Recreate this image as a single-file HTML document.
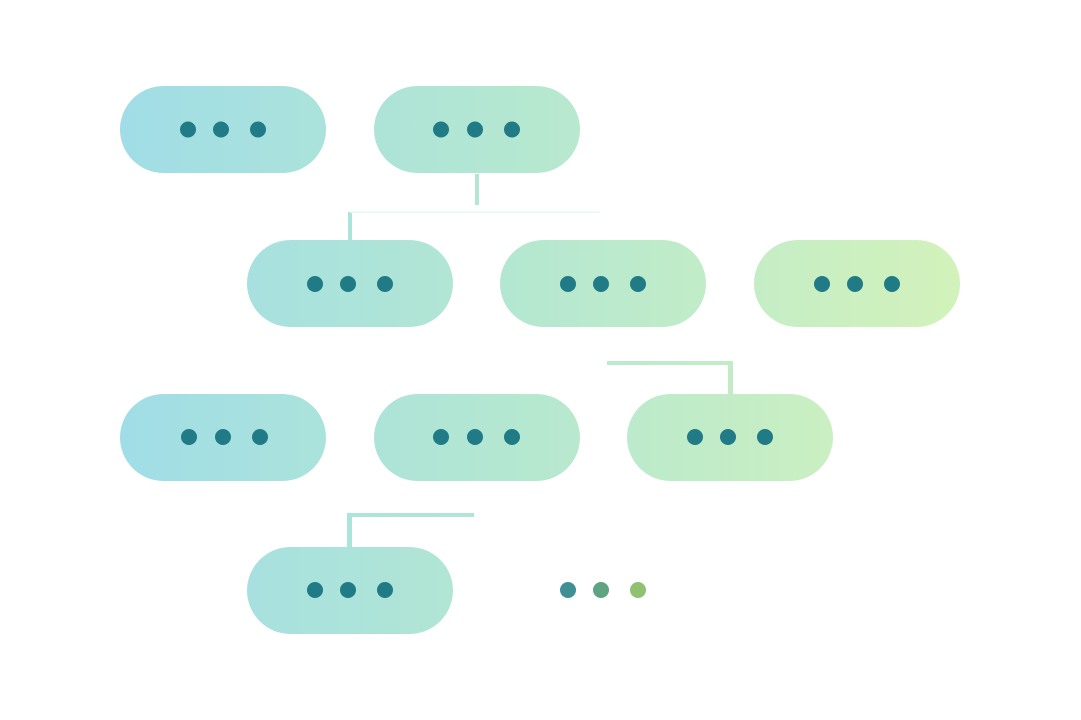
<!DOCTYPE html>
<html><head><meta charset="utf-8"><style>html,body{margin:0;padding:0;background:#fff;}svg{display:block}</style></head>
<body>
<svg width="1081" height="720" viewBox="0 0 1081 720" xmlns="http://www.w3.org/2000/svg">
<defs>
<linearGradient id="g" gradientUnits="userSpaceOnUse" x1="120" y1="0" x2="960" y2="0">
<stop offset="0" stop-color="#a0dde6"/>
<stop offset="0.5" stop-color="#b6e8d0"/>
<stop offset="1" stop-color="#d3f2bb"/>
</linearGradient>
</defs>
<g fill="url(#g)">
<rect x="120" y="86" width="206" height="87" rx="43.5"/>
<rect x="374" y="86" width="206" height="87" rx="43.5"/>
<rect x="247" y="240" width="206" height="87" rx="43.5"/>
<rect x="500" y="240" width="206" height="87" rx="43.5"/>
<rect x="754" y="240" width="206" height="87" rx="43.5"/>
<rect x="120" y="394" width="206" height="87" rx="43.5"/>
<rect x="374" y="394" width="206" height="87" rx="43.5"/>
<rect x="627" y="394" width="206" height="87" rx="43.5"/>
<rect x="247" y="547" width="206" height="87" rx="43.5"/>
<rect x="475" y="174" width="4" height="31"/>
<rect x="348" y="212" width="4" height="28"/>
<rect x="607" y="361" width="126" height="4"/>
<rect x="728" y="361" width="5" height="33"/>
<rect x="347" y="513" width="127" height="4"/>
<rect x="347" y="513" width="5" height="34"/>
</g>
<rect x="350" y="211.5" width="250" height="1.5" fill="#e6f7ef"/>
<g fill="#207b86">
<circle cx="188" cy="129.5" r="8"/><circle cx="221" cy="129.5" r="8"/><circle cx="258" cy="129.5" r="8"/>
<circle cx="441" cy="129.5" r="8"/><circle cx="475" cy="129.5" r="8"/><circle cx="512" cy="129.5" r="8"/>
<circle cx="315" cy="284" r="8"/><circle cx="348" cy="284" r="8"/><circle cx="385" cy="284" r="8"/>
<circle cx="568" cy="284" r="8"/><circle cx="601" cy="284" r="8"/><circle cx="638" cy="284" r="8"/>
<circle cx="822" cy="284" r="8"/><circle cx="855" cy="284" r="8"/><circle cx="892" cy="284" r="8"/>
<circle cx="189" cy="437" r="8"/><circle cx="223" cy="437" r="8"/><circle cx="260" cy="437" r="8"/>
<circle cx="441" cy="437" r="8"/><circle cx="475" cy="437" r="8"/><circle cx="512" cy="437" r="8"/>
<circle cx="695" cy="437" r="8"/><circle cx="728" cy="437" r="8"/><circle cx="765" cy="437" r="8"/>
<circle cx="315" cy="590" r="8"/><circle cx="348" cy="590" r="8"/><circle cx="385" cy="590" r="8"/>
</g>
<circle cx="568" cy="590" r="8" fill="#3f8f94"/>
<circle cx="601" cy="590" r="8" fill="#5fa382"/>
<circle cx="638" cy="590" r="8" fill="#8fc170"/>
</svg>
</body></html>
